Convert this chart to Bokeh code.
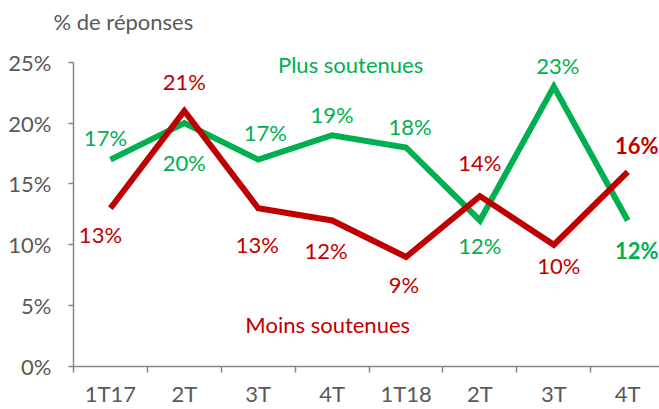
from bokeh.plotting import figure
from bokeh.models import FixedTicker, ColumnDataSource, Label, Range1d
from bokeh.core.properties import value
from bokeh.embed import file_html
from bokeh.resources import INLINE

categories = ["1T17", "2T", "3T", "4T", "1T18", "2T", "3T", "4T"]
plus_soutenues = [17, 20, 17, 19, 18, 12, 23, 12]
moins_soutenues = [13, 21, 13, 12, 9, 14, 10, 16]
y_ticks = [0, 5, 10, 15, 20, 25]

# label placement (pixels) relative to each point
plus_dx = [-5, 0, 7, 0, 4, 0, 4, 9]
plus_dy = [-22, 39, -27, -21, -21, 25, -21, 30]
moins_dx = [-10, 0, -1, -6, -2, 0, 5, 9]
moins_dy = [26, -29, 36, 30, 28, -34, 21, -26]

GREEN = "#00B050"
RED = "#C00000"
GRAY_AX = "#868686"
GRAY_TXT = "#595959"
FONT = "Lato"
FS = "22px"

x = list(range(len(categories)))

p = figure(width=659, height=409, output_backend="svg", toolbar_location=None,
           x_range=Range1d(-0.5, 7.43), y_range=Range1d(0, 27.28),
           min_border_left=73, min_border_right=0, min_border_top=34, min_border_bottom=38,
           title="% de réponses")
p.title.align = "left"
p.title.offset = -20
p.title.standoff = 0
p.title.text_font = FONT
p.title.text_font_size = FS
p.title.text_font_style = "normal"
p.title.text_color = GRAY_TXT

p.outline_line_color = None
p.grid.grid_line_color = None
p.background_fill_color = "white"
p.border_fill_color = "white"

# y axis
p.yaxis.ticker = FixedTicker(ticks=y_ticks)
p.yaxis.major_label_overrides = {t: f"{t}%" for t in y_ticks}
p.yaxis.bounds = (0, 25)
p.yaxis.axis_line_color = GRAY_AX
p.yaxis.axis_line_width = 1.5
p.yaxis.major_tick_line_color = GRAY_AX
p.yaxis.major_tick_line_width = 1.5
p.yaxis.major_tick_out = 5
p.yaxis.major_tick_in = 0
p.yaxis.minor_tick_line_color = None
p.yaxis.major_label_standoff = 17
p.yaxis.major_label_text_color = GRAY_TXT
p.yaxis.major_label_text_font = FONT
p.yaxis.major_label_text_font_size = FS

# x axis: labels at centres, ticks at category boundaries
p.xaxis.ticker = FixedTicker(ticks=x, minor_ticks=[i - 0.5 for i in range(len(categories) + 1)])
p.xaxis.major_label_overrides = {i: c for i, c in enumerate(categories)}
p.xaxis.axis_line_color = GRAY_AX
p.xaxis.axis_line_width = 1.5
p.xaxis.major_tick_line_color = None
p.xaxis.major_tick_out = 0
p.xaxis.major_tick_in = 0
p.xaxis.minor_tick_line_color = GRAY_AX
p.xaxis.minor_tick_line_width = 1.5
p.xaxis.minor_tick_out = 6
p.xaxis.minor_tick_in = 0
p.xaxis.major_label_standoff = 7
p.xaxis.major_label_text_color = GRAY_TXT
p.xaxis.major_label_text_font = FONT
p.xaxis.major_label_text_font_size = FS

p.line(x, plus_soutenues, line_color=GREEN, line_width=6, line_join="miter")
p.line(x, moins_soutenues, line_color=RED, line_width=6, line_join="miter")

def labels(vals, dx, dy, color):
    src = ColumnDataSource(dict(x=x, y=vals, t=[f"{v}%" for v in vals], dx=dx, dy=dy,
                                fw=["normal"] * (len(vals) - 1) + ["bold"]))
    p.text(x="x", y="y", text="t", x_offset="dx", y_offset="dy", source=src,
           text_color=color, text_font=value(FONT), text_font_size=FS,
           text_font_style="fw", text_align="center", text_baseline="middle")

labels(plus_soutenues, plus_dx, plus_dy, GREEN)
labels(moins_soutenues, moins_dx, moins_dy, RED)

p.add_layout(Label(x=3.25, y=24.84, text="Plus soutenues",
                   text_color=GREEN, text_font=FONT, text_font_size=FS,
                   text_align="center", text_baseline="middle"))
p.add_layout(Label(x=2.94, y=3.48, text="Moins soutenues",
                   text_color=RED, text_font=FONT, text_font_size=FS,
                   text_align="center", text_baseline="middle"))

open("out.html", "w").write(file_html(p, INLINE))
